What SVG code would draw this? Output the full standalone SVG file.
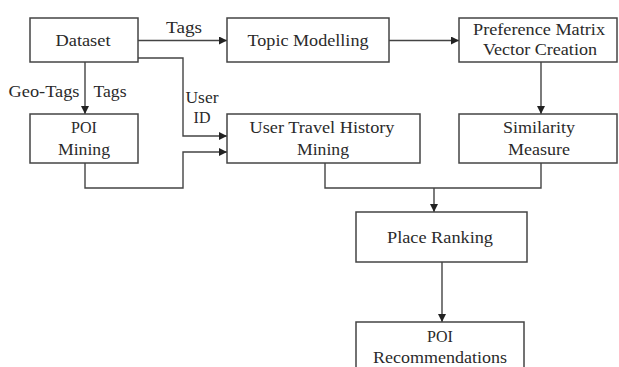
<svg xmlns="http://www.w3.org/2000/svg" width="619" height="367" viewBox="0 0 619 367">
<defs>
<marker id="ah" viewBox="0 0 8 8" refX="8" refY="4" markerWidth="8" markerHeight="8" markerUnits="userSpaceOnUse" orient="auto">
<path d="M0,0 L8,4 L0,8 z" fill="#222"/>
</marker>
</defs>
<style>
.box{fill:#fff;stroke:#444;stroke-width:1.5}
.ln{fill:none;stroke:#444;stroke-width:1.4}
.t{font-family:"Liberation Serif","Times New Roman",serif;font-size:16px;fill:#2a2a2a;text-anchor:middle}
</style>
<rect width="619" height="367" fill="#fff"/>
<g id="connectors">
<path class="ln" d="M138,40.5 H227" marker-end="url(#ah)"/>
<path class="ln" d="M389,40.5 H459" marker-end="url(#ah)"/>
<path class="ln" d="M85,62 V114" marker-end="url(#ah)"/>
<path class="ln" d="M138,58 H183 V136 H227" marker-end="url(#ah)"/>
<path class="ln" d="M85,163 V188 H183 V152 H227" marker-end="url(#ah)"/>
<path class="ln" d="M541,62 V114" marker-end="url(#ah)"/>
<path class="ln" d="M325,163 V188 H541 V163"/>
<path class="ln" d="M434,188 V212" marker-end="url(#ah)"/>
<path class="ln" d="M442,262 V322" marker-end="url(#ah)"/>
<text class="t" x="184" y="33" textLength="36" lengthAdjust="spacingAndGlyphs">Tags</text>
<text class="t" x="44" y="97" textLength="71" lengthAdjust="spacingAndGlyphs">Geo-Tags</text>
<text class="t" x="110" y="97" textLength="33" lengthAdjust="spacingAndGlyphs">Tags</text>
<text class="t" x="202" y="103" textLength="33" lengthAdjust="spacingAndGlyphs">User</text>
<text class="t" x="202" y="123">ID</text>
</g>
<g id="dataset">
<rect class="box" x="30" y="18" width="108" height="44"/>
<text class="t" x="83" y="46" textLength="55" lengthAdjust="spacingAndGlyphs">Dataset</text>
</g>
<g id="topic">
<rect class="box" x="227" y="18" width="162" height="44"/>
<text class="t" x="308" y="46" textLength="121" lengthAdjust="spacingAndGlyphs">Topic Modelling</text>
</g>
<g id="preference">
<rect class="box" x="459" y="18" width="158" height="44"/>
<text class="t" x="539" y="35" textLength="132" lengthAdjust="spacingAndGlyphs">Preference Matrix</text>
<text class="t" x="540" y="55" textLength="114" lengthAdjust="spacingAndGlyphs">Vector Creation</text>
</g>
<g id="poi-mining">
<rect class="box" x="30" y="114" width="108" height="49"/>
<text class="t" x="84" y="133">POI</text>
<text class="t" x="84" y="155" textLength="52" lengthAdjust="spacingAndGlyphs">Mining</text>
</g>
<g id="user-travel">
<rect class="box" x="227" y="114" width="193" height="49"/>
<text class="t" x="322" y="133" textLength="145" lengthAdjust="spacingAndGlyphs">User Travel History</text>
<text class="t" x="323" y="155" textLength="52" lengthAdjust="spacingAndGlyphs">Mining</text>
</g>
<g id="similarity">
<rect class="box" x="459" y="114" width="158" height="49"/>
<text class="t" x="539" y="133" textLength="72" lengthAdjust="spacingAndGlyphs">Similarity</text>
<text class="t" x="539" y="155" textLength="62" lengthAdjust="spacingAndGlyphs">Measure</text>
</g>
<g id="place-ranking">
<rect class="box" x="356" y="212" width="171" height="50"/>
<text class="t" x="440" y="243" textLength="106" lengthAdjust="spacingAndGlyphs">Place Ranking</text>
</g>
<g id="poi-rec">
<rect class="box" x="356" y="322" width="168" height="55"/>
<text class="t" x="440" y="342">POI</text>
<text class="t" x="440" y="363" textLength="134" lengthAdjust="spacingAndGlyphs">Recommendations</text>
</g>
</svg>
